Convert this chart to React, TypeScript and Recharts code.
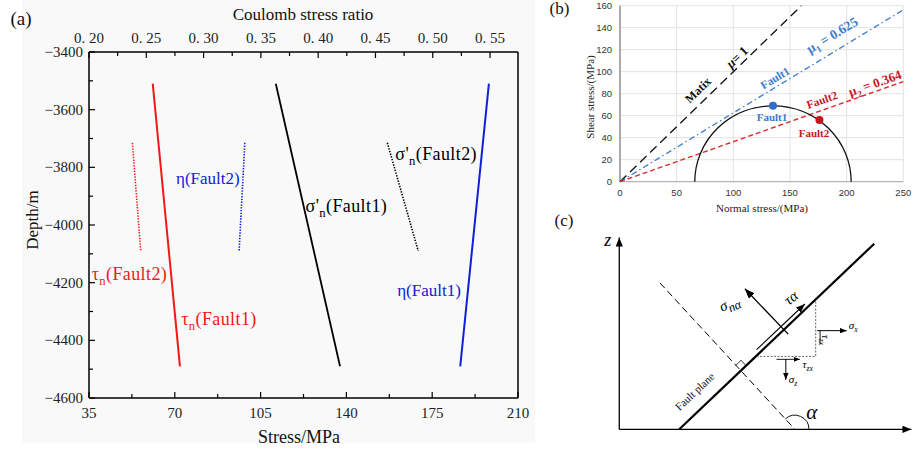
import React from 'react';
import { ScatterChart, Scatter, XAxis, YAxis, ReferenceLine, CartesianGrid } from 'recharts';

const SERIF = '"Liberation Serif", "Times New Roman", serif';
const SANS = '"Liberation Sans", Arial, sans-serif';

// ---------------- Panel (a) data ----------------
const stressTicks = [35, 52.5, 70, 87.5, 105, 122.5, 140, 157.5, 175, 192.5, 210];
const ratioTicks = [0.2, 0.225, 0.25, 0.275, 0.3, 0.325, 0.35, 0.375, 0.4, 0.425, 0.45, 0.475, 0.5, 0.525, 0.55];
const depthTicks = [-3400, -3500, -3600, -3700, -3800, -3900, -4000, -4100, -4200, -4300, -4400, -4500, -4600];

const tauFault1 = [{ stress: 61.0, depth: -3510 }, { stress: 72.1, depth: -4490 }];
const tauFault2 = [{ stress: 52.7, depth: -3715 }, { stress: 56.1, depth: -4090 }];
const sigmaFault1 = [{ stress: 111.2, depth: -3510 }, { stress: 137.4, depth: -4490 }];
const sigmaFault2 = [{ stress: 156.7, depth: -3715 }, { stress: 169.3, depth: -4090 }];
const etaFault1 = [{ ratio: 0.549, depth: -3510 }, { ratio: 0.524, depth: -4490 }];
const etaFault2 = [{ ratio: 0.336, depth: -3715 }, { ratio: 0.331, depth: -4090 }];

// ---------------- Panel (b) data ----------------
const normalTicks = [0, 50, 100, 150, 200, 250];
const shearTicks = [0, 20, 40, 60, 80, 100, 120, 140, 160];
const matrixLine = [{ sigma: 0, tau: 0 }, { sigma: 160, tau: 160 }];
const fault1Line = [{ sigma: 0, tau: 0 }, { sigma: 250, tau: 156.25 }];
const fault2Line = [{ sigma: 0, tau: 0 }, { sigma: 250, tau: 91 }];
const mohrCircle = [{ sigma: 66, tau: 0 }, { sigma: 135, tau: 69 }, { sigma: 204, tau: 0 }];
const fault1Point = [{ sigma: 135, tau: 69 }];
const fault2Point = [{ sigma: 176, tau: 56 }];

// ---------------- Panel (c) diagram geometry ----------------
const zAxisLine = [{ u: 0, w: 0 }, { u: 0, w: 65.5 }];
const xAxisLine = [{ u: 0, w: 0 }, { u: 99.8, w: 0 }];
const faultPlane = [{ u: 20.5, w: 0 }, { u: 87.1, w: 63.4 }];
const normalLine = [{ u: 13.9, w: 50 }, { u: 60, w: 0 }];
const rightAngle = [{ u: 39.8, w: 21.8 }, { u: 41.6, w: 23.6 }, { u: 43.3, w: 21.7 }];
const sigmaNArrow = [{ u: 57.7, w: 32.5 }, { u: 42.9, w: 48.0 }];
const tauArrow = [{ u: 46.9, w: 27.2 }, { u: 63.4, w: 42.8 }];
const elementEdges = [{ u: 46.9, w: 24.9 }, { u: 67.1, w: 24.9 }, { u: 67.1, w: 43.9 }];
const sigmaXArrow = [{ u: 67.6, w: 33.7 }, { u: 77.7, w: 33.7 }];
const tauZXSide = [{ u: 68.6, w: 33.7 }, { u: 68.6, w: 29.0 }];
const tauZXBottom = [{ u: 53.7, w: 23.9 }, { u: 61.7, w: 23.9 }];
const sigmaZArrow = [{ u: 56.9, w: 24.0 }, { u: 56.9, w: 16.9 }];
const alphaArc = [{ u: 60, w: 0 }, { u: 64.8, w: 0 }];

// ---------------- helpers ----------------
const noShape = () => <g />;
const at = (render: (x: number, y: number) => React.ReactNode) => (p: any) => <g>{render(p.cx, p.cy)}</g>;

// main text + subscript + optional rest, with absolute shifts based on font size fs
const withSub = (fs: number, main: any, sub: string, rest?: string, ratio = 0.7) => {
  const shift = fs * 0.28;
  return [
    <tspan key="m">{main}</tspan>,
    <tspan key="s" dy={shift} fontSize={fs * ratio}>{sub}</tspan>,
    rest ? <tspan key="r" dy={-shift} fontSize={fs}>{rest}</tspan> : null,
  ];
};

const segLine = (id: string, style: any, head?: number) => (p: any) => {
  const pts = p.points || [];
  const d = pts.map((q: any, i: number) => `${i ? 'L' : 'M'}${q.x},${q.y}`).join(' ');
  return (
    <g>
      {head ? (
        <defs>
          <marker id={id} viewBox="0 0 10 8" refX={10} refY={4} markerWidth={head} markerHeight={head * 0.8} markerUnits="userSpaceOnUse" orient="auto">
            <path d="M0,0 L10,4 L0,8 z" fill="#000" />
          </marker>
        </defs>
      ) : null}
      <path d={d} fill="none" {...style} markerEnd={head ? `url(#${id})` : undefined} />
    </g>
  );
};

// ---------------- Panel (a) ticks ----------------
function BottomTickA(p: any) {
  const v = p.payload.value;
  const major = v % 35 === 0;
  return (
    <g>
      <line x1={p.x} x2={p.x} y1={p.y} y2={p.y - (major ? 6 : 4)} stroke="#000" strokeWidth={1.2} />
      {major && (
        <text x={p.x} y={p.y + 20} textAnchor="middle" fontFamily={SERIF} fontSize={15} fill="#222">{v}</text>
      )}
    </g>
  );
}
function TopTickA(p: any) {
  const v = p.payload.value;
  const major = Math.round(v * 1000) % 50 === 0;
  return (
    <g>
      <line x1={p.x} x2={p.x} y1={p.y} y2={p.y + (major ? 6 : 4)} stroke="#000" strokeWidth={1.2} />
      {major && (
        <text x={p.x} y={p.y - 9} textAnchor="middle" fontFamily={SERIF} fontSize={15} fill="#222">{v.toFixed(2).replace('.', '. ')}</text>
      )}
    </g>
  );
}
function LeftTickA(p: any) {
  const v = p.payload.value;
  const major = v % 200 === 0;
  return (
    <g>
      <line x1={p.x} x2={p.x + (major ? 6 : 4)} y1={p.y} y2={p.y} stroke="#000" strokeWidth={1.2} />
      {major && (
        <text x={p.x - 6} y={p.y + 5} textAnchor="end" fontFamily={SERIF} fontSize={15} fill="#222">{'\u2212' + Math.abs(v)}</text>
      )}
    </g>
  );
}

function PanelA() {
  const red = '#f21818';
  const blue = '#1020d8';
  const lblStyle = { fontFamily: SERIF, fontSize: 18, letterSpacing: 0.4 } as any;
  return (
    <ScatterChart width={540} height={451} margin={{ top: 22, right: 22, bottom: 23, left: 29 }}>
      <XAxis xAxisId="b" dataKey="stress" type="number" domain={[35, 210]} ticks={stressTicks} interval={0}
        tickSize={0} tickMargin={0} tickLine={false} tick={(p: any) => <BottomTickA {...p} />} height={30}
        axisLine={{ stroke: '#000', strokeWidth: 1.5 }} />
      <XAxis xAxisId="t" orientation="top" dataKey="ratio" type="number" domain={[0.2, 0.5744]} ticks={ratioTicks} interval={0}
        tickSize={0} tickMargin={0} tickLine={false} tick={(p: any) => <TopTickA {...p} />} height={30}
        axisLine={{ stroke: '#000', strokeWidth: 1.5 }} />
      <YAxis yAxisId="d" dataKey="depth" type="number" domain={[-4600, -3400]} ticks={depthTicks} interval={0}
        tickSize={0} tickMargin={0} tickLine={false} tick={(p: any) => <LeftTickA {...p} />} width={60}
        axisLine={{ stroke: '#000', strokeWidth: 1.5 }} />
      <ReferenceLine xAxisId="b" yAxisId="d" x={210} stroke="#000" strokeWidth={1.5} />

      <Scatter data={tauFault1} xAxisId="b" yAxisId="d" shape={noShape} line={{ stroke: red, strokeWidth: 2 }} isAnimationActive={false} />
      <Scatter data={tauFault2} xAxisId="b" yAxisId="d" shape={noShape} line={{ stroke: red, strokeWidth: 1.6, strokeDasharray: '1.4 1.4' }} isAnimationActive={false} />
      <Scatter data={sigmaFault1} xAxisId="b" yAxisId="d" shape={noShape} line={{ stroke: '#000', strokeWidth: 1.8 }} isAnimationActive={false} />
      <Scatter data={sigmaFault2} xAxisId="b" yAxisId="d" shape={noShape} line={{ stroke: '#000', strokeWidth: 1.6, strokeDasharray: '1.4 1.4' }} isAnimationActive={false} />
      <Scatter data={etaFault1} xAxisId="t" yAxisId="d" shape={noShape} line={{ stroke: blue, strokeWidth: 2 }} isAnimationActive={false} />
      <Scatter data={etaFault2} xAxisId="t" yAxisId="d" shape={noShape} line={{ stroke: blue, strokeWidth: 1.6, strokeDasharray: '1.4 1.4' }} isAnimationActive={false} />

      <Scatter data={[{ stress: 83.5, depth: -3838 }]} xAxisId="b" yAxisId="d" isAnimationActive={false}
        shape={at((x, y) => <text x={x} y={y} dy="0.35em" textAnchor="middle" fontFamily={SERIF} fontSize={17} fill={blue}>η(Fault2)</text>)} />
      <Scatter data={[{ stress: 173.7, depth: -4227 }]} xAxisId="b" yAxisId="d" isAnimationActive={false}
        shape={at((x, y) => <text x={x} y={y} dy="0.35em" textAnchor="middle" fontFamily={SERIF} fontSize={17} fill={blue}>η(Fault1)</text>)} />
      <Scatter data={[{ stress: 176.6, depth: -3751 }]} xAxisId="b" yAxisId="d" isAnimationActive={false}
        shape={at((x, y) => <text x={x} y={y} dy="0.35em" textAnchor="middle" {...lblStyle} fill="#000">{withSub(18, "σ'", 'n', '(Fault2)')}</text>)} />
      <Scatter data={[{ stress: 140.0, depth: -3932 }]} xAxisId="b" yAxisId="d" isAnimationActive={false}
        shape={at((x, y) => <text x={x} y={y} dy="0.35em" textAnchor="middle" {...lblStyle} fill="#000">{withSub(18, "σ'", 'n', '(Fault1)')}</text>)} />
      <Scatter data={[{ stress: 51.5, depth: -4168 }]} xAxisId="b" yAxisId="d" isAnimationActive={false}
        shape={at((x, y) => <text x={x} y={y} dy="0.35em" textAnchor="middle" {...lblStyle} fill={red}>{withSub(18, 'τ', 'n', '(Fault2)')}</text>)} />
      <Scatter data={[{ stress: 88.0, depth: -4324 }]} xAxisId="b" yAxisId="d" isAnimationActive={false}
        shape={at((x, y) => <text x={x} y={y} dy="0.35em" textAnchor="middle" {...lblStyle} fill={red}>{withSub(18, 'τ', 'n', '(Fault1)')}</text>)} />

      <text x={21} y={25} textAnchor="middle" fontFamily={SERIF} fontSize={19} fill="#111">(a)</text>
      <text x={303} y={20} textAnchor="middle" fontFamily={SERIF} fontSize={17} fill="#111">Coulomb stress ratio</text>
      <text x={299} y={443} textAnchor="middle" fontFamily={SERIF} fontSize={18} fill="#111">Stress/MPa</text>
      <text x={38} y={220} transform="rotate(-90 38 220)" textAnchor="middle" fontFamily={SERIF} fontSize={17} fill="#111">Depth/m</text>
    </ScatterChart>
  );
}

// ---------------- Panel (b) ----------------
function BottomTickB(p: any) {
  return <text x={p.x} y={p.y + 14} textAnchor="middle" fontFamily={SANS} fontSize={9.5} fill="#333">{p.payload.value}</text>;
}
function LeftTickB(p: any) {
  return <text x={p.x - 8} y={p.y + 3.5} textAnchor="end" fontFamily={SANS} fontSize={9.5} fill="#333">{p.payload.value}</text>;
}
const mohrArc = (p: any) => {
  const [a, top, b] = p.points;
  const rx = (b.x - a.x) / 2;
  const ry = a.y - top.y;
  return <path d={`M${a.x},${a.y} A${rx},${ry} 0 0 1 ${b.x},${b.y}`} fill="none" stroke="#111" strokeWidth={1.3} />;
};

function PanelB() {
  const blue = '#3b7bcc';
  const red = '#c8141c';
  const bold = { fontFamily: SERIF, fontWeight: 700 } as any;
  return (
    <ScatterChart width={373} height={230} margin={{ top: 5.7, right: 9.7, bottom: 28.3, left: 50 }}>
      <CartesianGrid xAxisId="x" yAxisId="y" stroke="#e2e2e2" strokeWidth={1} />
      <XAxis xAxisId="x" dataKey="sigma" type="number" domain={[0, 250]} ticks={normalTicks} interval={0}
        tickSize={0} tickMargin={0} tickLine={false} tick={(p: any) => <BottomTickB {...p} />} height={20}
        axisLine={{ stroke: '#a8a8a8', strokeWidth: 1 }} />
      <YAxis yAxisId="y" dataKey="tau" type="number" domain={[0, 160]} ticks={shearTicks} interval={0}
        tickSize={0} tickMargin={0} tickLine={false} tick={(p: any) => <LeftTickB {...p} />} width={30}
        axisLine={{ stroke: '#9a9a9a', strokeWidth: 1.6 }} />

      <Scatter data={matrixLine} xAxisId="x" yAxisId="y" shape={noShape} line={{ stroke: '#111', strokeWidth: 1.3, strokeDasharray: '9 5' }} isAnimationActive={false} />
      <Scatter data={fault1Line} xAxisId="x" yAxisId="y" shape={noShape} line={{ stroke: blue, strokeWidth: 1.3, strokeDasharray: '6 3 1.5 3' }} isAnimationActive={false} />
      <Scatter data={fault2Line} xAxisId="x" yAxisId="y" shape={noShape} line={{ stroke: '#dc2a2e', strokeWidth: 1.4, strokeDasharray: '5 3' }} isAnimationActive={false} />
      <Scatter data={mohrCircle} xAxisId="x" yAxisId="y" shape={noShape} line={mohrArc} isAnimationActive={false} />
      <Scatter data={fault1Point} xAxisId="x" yAxisId="y" isAnimationActive={false}
        shape={at((x, y) => <circle cx={x} cy={y} r={4} fill="#2f6fcc" />)} />
      <Scatter data={fault2Point} xAxisId="x" yAxisId="y" isAnimationActive={false}
        shape={at((x, y) => <circle cx={x} cy={y} r={4} fill={red} />)} />

      <Scatter data={[{ sigma: 68.8, tau: 83.4 }]} xAxisId="x" yAxisId="y" isAnimationActive={false}
        shape={at((x, y) => <text x={x} y={y} dy="0.35em" textAnchor="middle" transform={`rotate(-44 ${x} ${y})`} {...bold} fontSize={12} fill="#111">Matix</text>)} />
      <Scatter data={[{ sigma: 103.2, tau: 113.4 }]} xAxisId="x" yAxisId="y" isAnimationActive={false}
        shape={at((x, y) => <text x={x} y={y} dy="0.35em" textAnchor="middle" transform={`rotate(-44 ${x} ${y})`} {...bold} fontSize={13} fill="#111"><tspan fontStyle="italic">μ</tspan>= 1</text>)} />
      <Scatter data={[{ sigma: 136.8, tau: 94.3 }]} xAxisId="x" yAxisId="y" isAnimationActive={false}
        shape={at((x, y) => <text x={x} y={y} dy="0.35em" textAnchor="middle" transform={`rotate(-31 ${x} ${y})`} {...bold} fontSize={11.5} fill={blue}>Fault1</text>)} />
      <Scatter data={[{ sigma: 187.1, tau: 133.4 }]} xAxisId="x" yAxisId="y" isAnimationActive={false}
        shape={at((x, y) => <text x={x} y={y} dy="0.35em" textAnchor="middle" transform={`rotate(-31 ${x} ${y})`} {...bold} fontSize={13.5} fill={blue}>{withSub(13.5, 'μ', '1', ' = 0.625')}</text>)} />
      <Scatter data={[{ sigma: 178.2, tau: 74.3 }]} xAxisId="x" yAxisId="y" isAnimationActive={false}
        shape={at((x, y) => <text x={x} y={y} dy="0.35em" textAnchor="middle" transform={`rotate(-19.5 ${x} ${y})`} {...bold} fontSize={11.5} fill={red}>Fault2</text>)} />
      <Scatter data={[{ sigma: 225, tau: 89.7 }]} xAxisId="x" yAxisId="y" isAnimationActive={false}
        shape={at((x, y) => <text x={x} y={y} dy="0.35em" textAnchor="middle" transform={`rotate(-19.5 ${x} ${y})`} {...bold} fontSize={13} fill={red}>{withSub(13, 'μ', '2', ' = 0.364')}</text>)} />
      <Scatter data={[{ sigma: 134.1, tau: 58.8 }]} xAxisId="x" yAxisId="y" isAnimationActive={false}
        shape={at((x, y) => <text x={x} y={y} dy="0.35em" textAnchor="middle" {...bold} fontSize={11} fill={blue}>Fault1</text>)} />
      <Scatter data={[{ sigma: 171.2, tau: 44.3 }]} xAxisId="x" yAxisId="y" isAnimationActive={false}
        shape={at((x, y) => <text x={x} y={y} dy="0.35em" textAnchor="middle" {...bold} fontSize={11} fill={red}>Fault2</text>)} />

      <text x={19.5} y={14} textAnchor="middle" fontFamily={SERIF} fontSize={17} fill="#111">(b)</text>
      <text x={24} y={226} textAnchor="middle" fontFamily={SERIF} fontSize={17} fill="#111">(c)</text>
      <text x={222} y={212} textAnchor="middle" fontFamily={SERIF} fontSize={11} fill="#222">Normal stress/(MPa)</text>
      <text x={54} y={97} transform="rotate(-90 54 97)" textAnchor="middle" fontFamily={SERIF} fontSize={11} fill="#222">Shear stress/(MPa)</text>
    </ScatterChart>
  );
}

// ---------------- Panel (c) ----------------
const arcLine = (p: any) => {
  const [c, e] = p.points;
  const r = Math.abs(e.x - c.x);
  const ang = Math.atan2(normalLine[0].w - normalLine[1].w, normalLine[0].u - normalLine[1].u);
  const ex = c.x + r * Math.cos(ang);
  const ey = c.y - r * Math.sin(ang);
  return <path d={`M${c.x + r},${c.y} A${r},${r} 0 0 0 ${ex},${ey}`} fill="none" stroke="#111" strokeWidth={1} />;
};

function PanelC() {
  const it = { fontFamily: SERIF, fontStyle: 'italic' } as any;
  const common = { xAxisId: 'u', yAxisId: 'w', shape: noShape, isAnimationActive: false } as any;
  return (
    <ScatterChart width={373} height={221} margin={{ top: 6.1, right: 1, bottom: 10, left: 61.7 }}>
      <XAxis xAxisId="u" dataKey="u" type="number" domain={[-6, 100]} hide />
      <YAxis yAxisId="w" dataKey="w" type="number" domain={[-4, 66]} hide />

      <Scatter data={zAxisLine} {...common} line={segLine('arZ', { stroke: '#000', strokeWidth: 1.3 }, 9)} />
      <Scatter data={xAxisLine} {...common} line={segLine('arX', { stroke: '#000', strokeWidth: 1.3 }, 9)} />
      <Scatter data={faultPlane} {...common} line={segLine('fp', { stroke: '#000', strokeWidth: 2.2 })} />
      <Scatter data={normalLine} {...common} line={segLine('nl', { stroke: '#000', strokeWidth: 1, strokeDasharray: '7 4' })} />
      <Scatter data={rightAngle} {...common} line={segLine('ra', { stroke: '#000', strokeWidth: 0.8 })} />
      <Scatter data={sigmaNArrow} {...common} line={segLine('arN', { stroke: '#000', strokeWidth: 1.3 }, 10)} />
      <Scatter data={tauArrow} {...common} line={segLine('arT', { stroke: '#000', strokeWidth: 1.1 }, 9)} />
      <Scatter data={elementEdges} {...common} line={segLine('el', { stroke: '#666', strokeWidth: 1, strokeDasharray: '2 1.5' })} />
      <Scatter data={sigmaXArrow} {...common} line={segLine('arSx', { stroke: '#000', strokeWidth: 1 }, 7)} />
      <Scatter data={tauZXSide} {...common} line={segLine('tzs', { stroke: '#000', strokeWidth: 0.9 })} />
      <Scatter data={tauZXBottom} {...common} line={segLine('arTzb', { stroke: '#000', strokeWidth: 0.9 }, 6)} />
      <Scatter data={sigmaZArrow} {...common} line={segLine('arSz', { stroke: '#000', strokeWidth: 1 }, 7)} />
      <Scatter data={alphaArc} {...common} line={arcLine} />

      <Scatter data={[{ u: -3.9, w: 64.6 }]} xAxisId="u" yAxisId="w" isAnimationActive={false}
        shape={at((x, y) => <text x={x} y={y} dy="0.35em" textAnchor="middle" {...it} fontSize={18} fill="#000">z</text>)} />
      <Scatter data={[{ u: 25.8, w: 12.9 }]} xAxisId="u" yAxisId="w" isAnimationActive={false}
        shape={at((x, y) => <text x={x} y={y} dy="0.35em" textAnchor="middle" transform={`rotate(-43.6 ${x} ${y})`} fontFamily={SERIF} fontSize={11} fill="#111">Fault plane</text>)} />
      <Scatter data={[{ u: 37.5, w: 43.2 }]} xAxisId="u" yAxisId="w" isAnimationActive={false}
        shape={at((x, y) => <text x={x} y={y} dy="0.35em" textAnchor="middle" transform={`rotate(-25 ${x} ${y})`} {...it} fontSize={15} fill="#000">{withSub(15, 'σ', 'nα', undefined, 0.85)}</text>)} />
      <Scatter data={[{ u: 58.6, w: 45.0 }]} xAxisId="u" yAxisId="w" isAnimationActive={false}
        shape={at((x, y) => <text x={x} y={y} dy="0.35em" textAnchor="middle" transform={`rotate(-40 ${x} ${y})`} {...it} fontSize={15} fill="#000">τα</text>)} />
      <Scatter data={[{ u: 78.4, w: 35.6 }]} xAxisId="u" yAxisId="w" isAnimationActive={false}
        shape={at((x, y) => <text x={x} y={y} dy="0.35em" textAnchor="start" {...it} fontSize={11} fill="#000">{withSub(11, 'σ', 'x')}</text>)} />
      <Scatter data={[{ u: 70.6, w: 30.5 }]} xAxisId="u" yAxisId="w" isAnimationActive={false}
        shape={at((x, y) => <text x={x} y={y} dy="0.35em" textAnchor="middle" transform={`rotate(90 ${x} ${y})`} {...it} fontSize={11} fill="#000">{withSub(11, 'τ', 'zx')}</text>)} />
      <Scatter data={[{ u: 62.6, w: 22.4 }]} xAxisId="u" yAxisId="w" isAnimationActive={false}
        shape={at((x, y) => <text x={x} y={y} dy="0.35em" textAnchor="start" {...it} fontSize={11} fill="#000">{withSub(11, 'τ', 'zx')}</text>)} />
      <Scatter data={[{ u: 57.9, w: 17.2 }]} xAxisId="u" yAxisId="w" isAnimationActive={false}
        shape={at((x, y) => <text x={x} y={y} dy="0.35em" textAnchor="start" {...it} fontSize={11} fill="#000">{withSub(11, 'σ', 'z')}</text>)} />
      <Scatter data={[{ u: 65.8, w: 6.0 }]} xAxisId="u" yAxisId="w" isAnimationActive={false}
        shape={at((x, y) => <text x={x} y={y} dy="0.35em" textAnchor="middle" {...it} fontSize={21} fill="#000">α</text>)} />
    </ScatterChart>
  );
}

export default function App() {
  return (
    <div style={{ position: 'absolute', left: 0, top: 0, width: 913, height: 451, background: '#fff', overflow: 'hidden' }}>
      <div style={{ position: 'absolute', left: 22, top: 0, width: 513, height: 443, background: '#f9f9f9' }} />
      <div style={{ position: 'absolute', left: 0, top: 0 }}><PanelA /></div>
      <div style={{ position: 'absolute', left: 540, top: 0 }}><PanelB /></div>
      <div style={{ position: 'absolute', left: 540, top: 230 }}><PanelC /></div>
    </div>
  );
}
